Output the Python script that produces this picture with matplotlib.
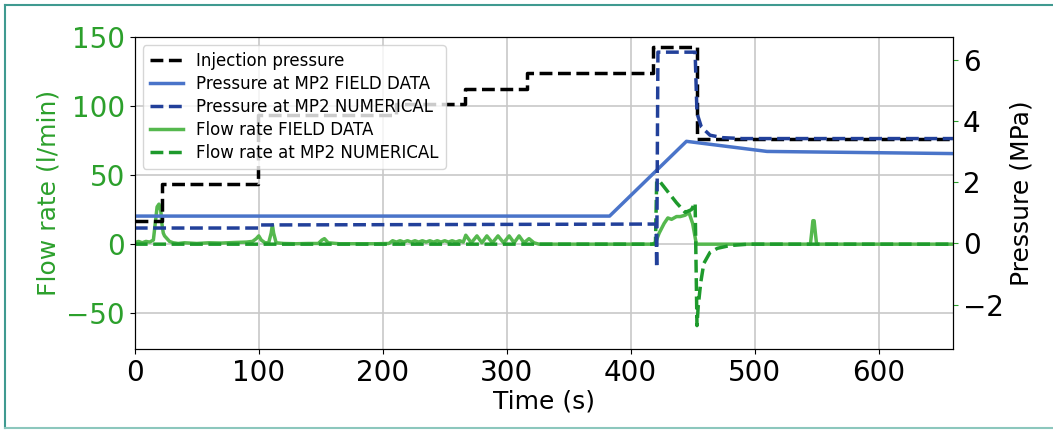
import matplotlib
matplotlib.use("Agg")
import matplotlib.pyplot as plt
from matplotlib.lines import Line2D

# ---------------- data ----------------
# Injection pressure (MPa), step levels (steps-post)
inj_t = [0, 22, 99.5, 211, 266, 316, 418, 453.5, 660]
inj_p = [0.72, 1.93, 4.18, 4.55, 5.03, 5.55, 6.40, 3.42, 3.42]

# Pressure at MP2 field data (MPa)
pf_t = [0, 383, 445, 510, 660]
pf_p = [0.89, 0.89, 3.33, 3.00, 2.93]

# Pressure at MP2 numerical (MPa)
pn_t = [0, 99.5, 100, 420.5, 421, 422, 452, 453.5, 457, 464, 474, 490, 660]
pn_p = [0.50, 0.50, 0.60, 0.63, -0.80, 6.24, 6.24, 4.25, 3.80, 3.53, 3.45, 3.42, 3.42]

# Flow rate field data (l/min)
ff_t = [0, 3, 6, 9, 12, 15, 16.5, 18, 19.5, 21, 22, 23, 24, 26, 28, 31, 35,
        40, 50, 60, 70, 80, 90, 95, 98, 100, 102, 105, 108, 110, 111, 112, 114,
        120, 130, 140, 148, 151, 153, 156, 165, 180, 195, 205,
        208, 211, 214, 217, 220, 223, 226, 229, 232, 235, 238, 241, 244, 247,
        250, 253, 256, 259, 262, 265,
        267, 271.5, 276, 280, 284, 288.5, 293, 297.5, 302, 306, 310, 314, 318, 322, 326,
        340, 380, 417, 420, 423, 427, 430, 433, 437, 440, 444, 447, 450, 453,
        480, 520, 545, 546, 547, 548, 549, 550, 600, 660]
ff_q = [1.0, 2.0, 1.0, 2.0, 1.5, 3.0, 15.0, 27.0, 29.0, 24.0, 14.0, 8.0, 6.0, 4.0, 2.0, 1.0, 0.5,
        1.0, 0.5, 1.0, 0.8, 1.2, 1.5, 2.0, 4.0, 6.0, 3.0, 1.0, 1.0, 8.0, 14.0, 8.0, 1.0,
        0.5, 0.3, 0.5, 0.5, 3.0, 4.0, 1.0, 0.3, 0.3, 0.3, 0.5,
        2.5, 1.5, 2.5, 1.5, 2.5, 1.5, 2.5, 1.5, 2.5, 1.5, 2.5, 1.5, 2.5, 1.5,
        2.5, 1.5, 2.5, 1.5, 2.5, 1.5,
        6.5, 1.0, 6.0, 1.0, 6.0, 1.0, 6.0, 1.0, 6.0, 1.0, 6.0, 1.0, 4.0, 1.0, 0.0,
        0.0, 0.0, 0.0, 1.0, 8.0, 15.0, 19.0, 18.0, 20.0, 20.0, 21.0, 23.0, 15.0, 0.0,
        0.0, 0.0, 0.0, 8.0, 17.0, 17.0, 8.0, 0.0, 0.0, 0.0]

# Flow rate at MP2 numerical (l/min)
fn_t = [0, 420, 421, 423, 430, 437, 444, 449, 452, 453.5, 454.5, 456.5, 459, 464, 470, 480, 495, 660]
fn_q = [0, 0, 46, 46, 38, 30, 23, 25, 30, -59, -45, -28, -14, -6, -3, -1, 0, 0]

# ---------------- figure ----------------
C_INJ = "black"
C_PF = "#4a74c9"
C_PN = "#22409a"
C_FF = "#55b84e"
C_FN = "#1e9a2c"
C_GREEN_TXT = "#2ca02c"

fig = plt.figure(figsize=(10.53, 4.32), dpi=100)
ax1 = fig.add_axes([0.128, 0.192, 0.777, 0.722])
ax2 = ax1.twinx()

lw = 2.5
h4, = ax1.plot(ff_t, ff_q, color=C_FF, lw=lw, label="Flow rate FIELD DATA")
h5, = ax1.plot(fn_t, fn_q, color=C_FN, lw=lw, ls="--", label="Flow rate at MP2 NUMERICAL")

h1, = ax2.plot(inj_t, inj_p, color=C_INJ, lw=lw, ls="--", drawstyle="steps-post",
               label="Injection pressure")
h2, = ax2.plot(pf_t, pf_p, color=C_PF, lw=lw, label="Pressure at MP2 FIELD DATA")
h3, = ax2.plot(pn_t, pn_p, color=C_PN, lw=lw, ls="--", label="Pressure at MP2 NUMERICAL")

ax1.set_xlim(0, 660)
ax1.set_ylim(-76, 150)
ax2.set_ylim(-3.45, 6.73)
ax1.set_xticks([0, 100, 200, 300, 400, 500, 600])
ax1.set_yticks([-50, 0, 50, 100, 150])
ax2.set_yticks([-2, 0, 2, 4, 6])

ax1.grid(True, color="#c8c8c8", lw=1.2)
ax1.set_axisbelow(True)

ax1.tick_params(axis="both", labelsize=20)
ax1.tick_params(axis="y", labelcolor=C_GREEN_TXT)
ax2.tick_params(axis="y", labelsize=20, colors=C_GREEN_TXT, labelcolor="black")

ax1.set_xlabel("Time (s)", fontsize=18, labelpad=2)
ax1.set_ylabel("Flow rate (l/min)", fontsize=18, color=C_GREEN_TXT)
ax2.set_ylabel("Pressure (MPa)", fontsize=18)

ax2.legend(handles=[h1, h2, h3, h4, h5], loc="upper left", fontsize=12,
           handlelength=2.0, labelspacing=0.3)

# teal frame around the figure
frame_kw = dict(transform=fig.transFigure, color="#3f9a90", lw=1.5)
fig.add_artist(Line2D([5 / 1053, 1.0], [1 - 5 / 432, 1 - 5 / 432], **frame_kw))
fig.add_artist(Line2D([5 / 1053, 5 / 1053], [4 / 432, 1 - 5 / 432], **frame_kw))
fig.add_artist(Line2D([5 / 1053, 1.0], [4 / 432, 4 / 432], transform=fig.transFigure,
                      color="#8cc7bd", lw=1.5))

fig.savefig("out.png", dpi=100)
